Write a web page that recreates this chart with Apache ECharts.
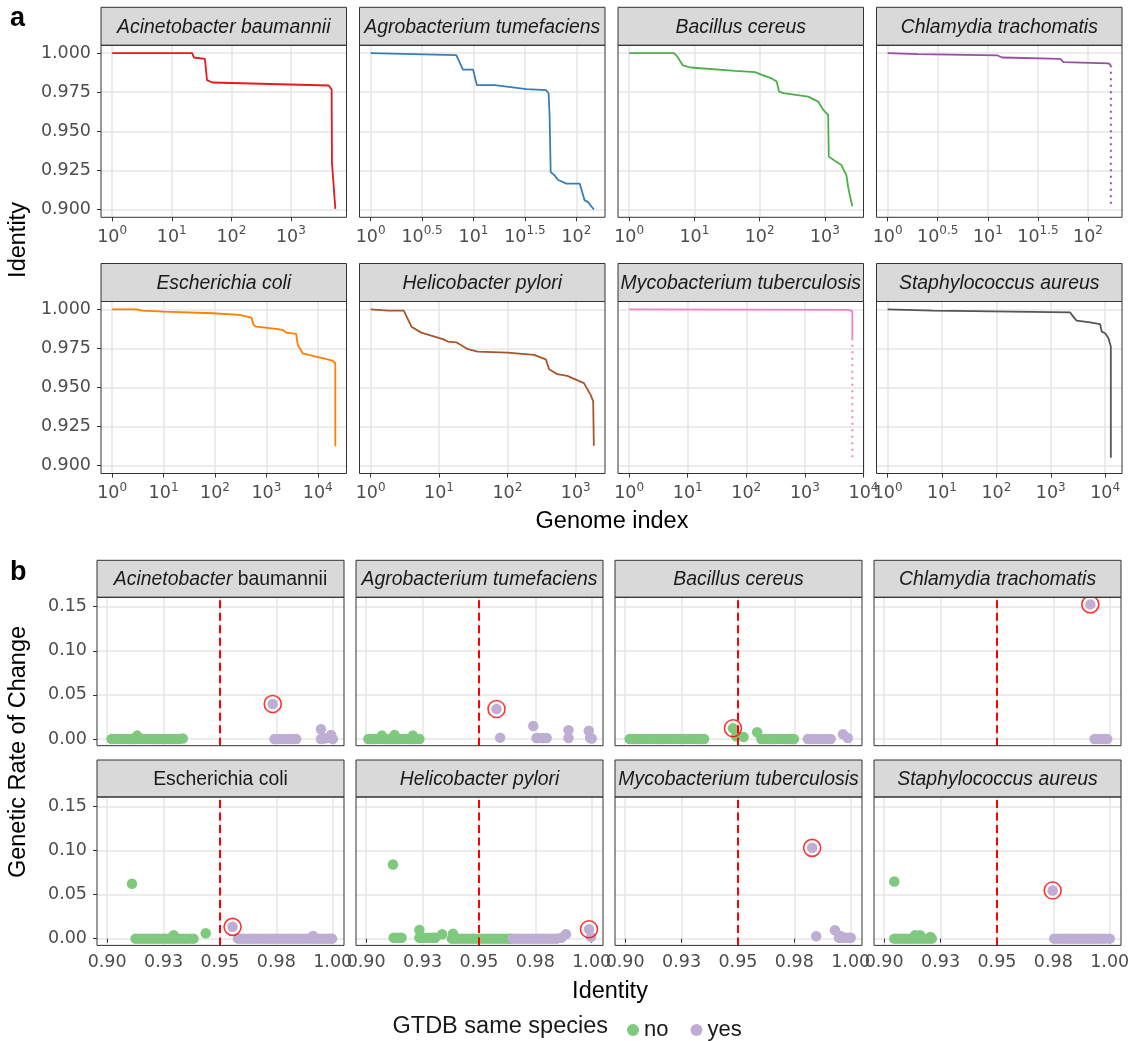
<!DOCTYPE html>
<html><head><meta charset="utf-8">
<script src="https://cdn.jsdelivr.net/npm/echarts@6/dist/echarts.min.js"></script>
<style>html,body{margin:0;padding:0;background:#fff}#c{width:1128px;height:1041px}</style>
</head><body><div id="c"></div>
<script>
// ---------------- DATA ----------------
const speciesA = ['Acinetobacter baumannii','Agrobacterium tumefaciens','Bacillus cereus','Chlamydia trachomatis',
  'Escherichia coli','Helicobacter pylori','Mycobacterium tuberculosis','Staphylococcus aureus'];
const lineColors = ['#e41a1c','#377eb8','#4daf4a','#984ea3','#ff7f00','#a65628','#f781bf','#555555'];

// panel a: [genome index, identity]
const curveAcinetobacter = [[1,1.000],[22,1.000],[23.5,0.9972],[36,0.9963],[39,0.9827],[48,0.9812],[4300,0.9793],[4600,0.9785],[4820,0.9768],[4880,0.9300],[5560,0.9004]];
const curveAgrobacterium = [[1,1.000],[6.8,0.9987],[7.9,0.9895],[9.9,0.9895],[10.8,0.9795],[16.1,0.9795],[16.7,0.9784],[32.7,0.9770],[51,0.9763],[53.8,0.9742],[55,0.9590],[56.3,0.9240],[61.5,0.9218],[66,0.9190],[80,0.9165],[108,0.9165],[113,0.9120],[120,0.9060],[130,0.9047],[148,0.9000]];
const curveBacillus = [[1,1.000],[4.85,1.000],[5.45,0.9979],[6.65,0.9921],[8.7,0.9908],[42,0.9887],[85,0.9878],[108,0.9861],[153,0.9838],[182,0.9818],[198,0.9754],[230,0.9744],[555,0.9722],[787,0.9690],[940,0.9637],[1120,0.9605],[1146,0.9338],[1414,0.9312],[1785,0.9284],[2130,0.9220],[2310,0.9124],[2630,0.9021]];
const curveChlamydia = [[1,1.000],[2,0.9993],[12.5,0.9985],[13.9,0.9972],[53,0.9963],[57,0.9942],[161,0.9934],[169,0.9923]];
const curveEscherichia = [[1,1.000],[3,1.000],[3.8,0.9992],[9.9,0.9985],[92,0.9975],[303,0.9964],[510,0.9947],[565,0.9900],[637,0.9889],[1550,0.9875],[2090,0.9868],[2430,0.9851],[3790,0.9843],[4080,0.9772],[5100,0.9719],[7980,0.9702],[19400,0.9672],[21900,0.9655],[21950,0.9124]];
const curveHelicobacter = [[1,1.000],[1.8,0.9992],[3.05,0.9992],[3.95,0.9889],[5.5,0.9851],[8.6,0.9826],[11.4,0.9809],[13.5,0.9794],[17.9,0.9789],[26.4,0.9745],[36.8,0.9730],[100,0.9723],[246,0.9709],[365,0.9680],[408,0.9617],[538,0.9585],[753,0.9574],[1318,0.9528],[1650,0.9453],[1800,0.9411],[1840,0.9128]];
const curveMycobacterium = [[1,1.000],[5520,0.9996],[6460,0.9989],[6460,0.9815]];
const curveStaphylococcus = [[1,1.000],[6.8,0.9992],[2250,0.9981],[2590,0.9953],[2980,0.9928],[5270,0.9917],[8060,0.9906],[8650,0.9857],[10000,0.9847],[11500,0.9815],[12700,0.9762],[12710,0.9050]];
const gapChlamydia = [[169,0.9923],[169,0.9015]];
const gapMycobacterium = [[6460,0.9815],[6460,0.9039]];
const curves = [curveAcinetobacter,curveAgrobacterium,curveBacillus,curveChlamydia,curveEscherichia,curveHelicobacter,curveMycobacterium,curveStaphylococcus];
const gaps = [null,null,null,gapChlamydia,null,null,gapMycobacterium,null];
const genomeTickExponents = [[0,1,2,3],[0,0.5,1,1.5,2],[0,1,2,3],[0,0.5,1,1.5,2],[0,1,2,3,4],[0,1,2,3],[0,1,2,3,4],[0,1,2,3,4]];
const identityTicksA = [0.900,0.925,0.950,0.975,1.000];

// panel b: [identity, genetic rate of change]
const identityTicksB = [0.90,0.925,0.95,0.975,1.00];
const identityTickLabelsB = ['0.90','0.93','0.95','0.98','1.00'];
const rateTicks = [0,0.05,0.10,0.15];
const speciesThreshold = 0.95;
const noPoints = [
  [[0.902,0],[0.9035,0],[0.905,0],[0.9065,0],[0.908,0],[0.9095,0],[0.911,0],[0.9125,0],[0.9133,0.0038],[0.914,0],[0.9155,0],[0.917,0],[0.9185,0],[0.920,0],[0.9215,0],[0.923,0],[0.9245,0],[0.926,0],[0.9275,0],[0.929,0],[0.9305,0],[0.932,0],[0.9335,0.0005]],
  [[0.901,0],[0.9025,0],[0.904,0],[0.9055,0],[0.907,0.0038],[0.907,0],[0.9085,0],[0.910,0],[0.9115,0],[0.9126,0.0045],[0.913,0],[0.9145,0],[0.916,0],[0.9175,0],[0.919,0],[0.9207,0.0038],[0.9205,0],[0.922,0],[0.9236,0]],
  [[0.902,0],[0.9035,0],[0.905,0],[0.9065,0],[0.908,0],[0.9095,0],[0.911,0],[0.9125,0],[0.914,0],[0.9155,0],[0.917,0],[0.9185,0],[0.920,0],[0.9215,0],[0.923,0],[0.9245,0],[0.926,0],[0.9275,0],[0.929,0],[0.9305,0],[0.932,0],[0.9335,0],[0.935,0],
   [0.9478,0.0121],[0.9492,0.003],[0.9525,0.0022],[0.9585,0.0076],
   [0.9604,0],[0.962,0],[0.9635,0],[0.965,0],[0.9665,0],[0.968,0],[0.9695,0],[0.971,0],[0.9725,0],[0.974,0],[0.9748,0]],
  [],
  [[0.911,0.0622],[0.9126,0],[0.914,0],[0.9155,0],[0.917,0],[0.9185,0],[0.920,0],[0.9215,0],[0.923,0],[0.9245,0],[0.926,0],[0.9275,0],[0.9295,0.004],[0.929,0],[0.9305,0],[0.932,0],[0.9335,0],[0.935,0],[0.9365,0],[0.9383,0],[0.9437,0.0061]],
  [[0.9119,0.084],[0.9122,0.001],[0.9135,0.001],[0.915,0.001],[0.9157,0.001],[0.9236,0.0099],[0.9236,0.001],[0.925,0.001],[0.9265,0.001],[0.928,0.001],[0.9295,0.001],[0.9306,0.001],[0.9337,0.005],[0.9385,0.0057],
   [0.938,0],[0.9395,0],[0.941,0],[0.9425,0],[0.944,0],[0.9455,0],[0.947,0],[0.9485,0],[0.950,0],[0.9515,0],[0.953,0],[0.9545,0],[0.956,0],[0.9575,0],[0.959,0],[0.9605,0],[0.962,0],[0.9635,0],[0.964,0]],
  [],
  [[0.9045,0.0649],[0.9045,0],[0.906,0],[0.9075,0],[0.909,0],[0.9105,0],[0.912,0],[0.9137,0.004],[0.9135,0],[0.915,0],[0.9159,0.004],[0.9165,0],[0.918,0],[0.9195,0],[0.9205,0.002],[0.9211,0]]
];
const yesPoints = [
  [[0.9734,0.0397],[0.9742,0],[0.9757,0],[0.9772,0],[0.9787,0],[0.9802,0],[0.9817,0],[0.9832,0],[0.9838,0],[0.9948,0.011],[0.9948,0],[0.9962,0.0005],[0.9975,0.001],[0.9993,0.0045],[1.0,0]],
  [[0.9578,0.034],[0.9594,0.0015],[0.9741,0.0147],[0.9755,0.001],[0.977,0.001],[0.9785,0.001],[0.980,0.001],[0.9897,0.010],[0.9897,0.001],[0.9987,0.0094],[0.9993,0.001],[1.0,0.0005]],
  [[0.981,0],[0.9825,0],[0.984,0],[0.9855,0],[0.987,0],[0.9885,0],[0.990,0],[0.9911,0],[0.9966,0.0053],[0.9987,0.001]],
  [[0.9914,0.1526],[0.9933,0],[0.9948,0],[0.9963,0],[0.9978,0],[0.9989,0]],
  [[0.9556,0.0134],[0.958,0],[0.9595,0],[0.961,0],[0.9625,0],[0.964,0],[0.9655,0],[0.967,0],[0.9685,0],[0.970,0],[0.9715,0],[0.973,0],[0.9745,0],[0.976,0],[0.9775,0],[0.979,0],[0.9805,0],[0.982,0],[0.9835,0],[0.985,0],[0.9865,0],[0.988,0],[0.9895,0],[0.991,0],[0.9913,0.003],[0.9925,0],[0.994,0],[0.9955,0],[0.997,0],[0.9985,0],[0.9997,0]],
  [[0.965,0],[0.9665,0],[0.968,0],[0.9695,0],[0.971,0],[0.9725,0],[0.974,0],[0.9755,0],[0.977,0],[0.9785,0],[0.980,0],[0.9815,0],[0.983,0],[0.9845,0],[0.9865,0.001],[0.9886,0.005],[0.9988,0.0107],[0.9997,0.002]],
  [[0.9829,0.103],[0.9847,0.0027],[0.993,0.0095],[0.9948,0.001],[0.9955,0.003],[0.996,0.001],[0.9975,0.001],[0.999,0.001],[1.0,0.001]],
  [[0.9747,0.0546],[0.9754,0],[0.977,0],[0.9785,0],[0.980,0],[0.9815,0],[0.983,0],[0.9845,0],[0.986,0],[0.9875,0],[0.989,0],[0.9905,0],[0.992,0],[0.9935,0],[0.995,0],[0.9965,0],[0.998,0],[1.0,0]]
];
const highlightPoints = [[0.9734,0.0397],[0.9578,0.034],[0.9478,0.0121],[0.9914,0.1526],[0.9556,0.0134],[0.9988,0.0107],[0.9829,0.103],[0.9747,0.0546]];

// ---------------- LAYOUT / STYLE ----------------
const A_LEFT = [101, 359.5, 618, 876.5], A_W = 245.5, A_TOP = [45.3, 301.5], A_H = 172, A_STRIP = 38;
const B_LEFT = [97, 356, 615, 874], B_W = 247, B_TOP = [597.3, 797], B_H = 148.4, B_STRIP = 37;
const TICK_FONT = 'DejaVu Sans', TICK_SIZE = 17.5, TICK_COLOR = '#4d4d4d';
const MAIN_FONT = 'Liberation Sans';
const GRID_LINE = '#e6e6e6';
const GRID_W = 1.5;

const grids = [], xAxes = [], yAxes = [], series = [], graphics = [];

function expandLog(data) {
  const xs = data.map(d => d[0]);
  const lo = Math.log10(Math.min(...xs)), hi = Math.log10(Math.max(...xs));
  const pad = (hi - lo) * 0.05;
  return [Math.pow(10, lo - pad), Math.pow(10, hi + pad)];
}
function supLabel(v) {
  const e = Math.log10(v);
  const r = Math.round(e * 2) / 2;
  if (Math.abs(e - r) > 1e-6) return '';
  return '{b|10}{s|' + (Number.isInteger(r) ? r.toFixed(0) : r.toFixed(1)) + '}';
}
function addFrame(x, y, w, h) {
  graphics.push({type:'rect', silent:true, z:50, shape:{x:x, y:y, width:w, height:h}, style:{fill:'none', stroke:'#333333', lineWidth:1}});
}
function addStrip(x, y, w, h, text, rich) {
  graphics.push({type:'rect', silent:true, z:50, shape:{x:x, y:y, width:w, height:h}, style:{fill:'#d9d9d9', stroke:'#333333', lineWidth:1}});
  const st = {text:text, x:x + w/2, y:y + h/2 + 1, textAlign:'center', textVerticalAlign:'middle', fill:'#1a1a1a',
    font:'italic 19.4px "' + MAIN_FONT + '"'};
  if (rich) st.rich = rich;
  graphics.push({type:'text', silent:true, z:51, style:st});
}

// ---- panel a ----
for (let k = 0; k < 8; k++) {
  const col = k % 4, row = Math.floor(k / 4);
  const gx = A_LEFT[col], gy = A_TOP[row];
  grids.push({left:gx, top:gy, width:A_W, height:A_H, show:true, backgroundColor:'#ffffff', borderWidth:0, containLabel:false, outerBoundsMode:'none'});
  const all = gaps[k] ? curves[k].concat(gaps[k]) : curves[k];
  const ext = expandLog(all);
  const exps = genomeTickExponents[k];
  const ticks = exps.map(e => Math.pow(10, e));
  const half = exps.some(e => !Number.isInteger(e));
  xAxes.push({gridIndex:k, type:'log', logBase: half ? Math.sqrt(10) : 10, min:ext[0], max:ext[1],
    axisLine:{show:false},
    axisTick:{show:true, length:4, lineStyle:{color:'#333333', width:1}, customValues:ticks},
    splitLine:{show:true, lineStyle:{color:GRID_LINE, width:GRID_W}},
    minorSplitLine:{show:false},
    axisLabel:{show:true, margin:8, customValues:ticks, formatter:supLabel, color:TICK_COLOR,
      rich:{b:{fontFamily:TICK_FONT, fontSize:TICK_SIZE, color:TICK_COLOR, verticalAlign:'bottom', lineHeight:21},
            s:{fontFamily:TICK_FONT, fontSize:12, color:TICK_COLOR, verticalAlign:'top', lineHeight:12}}}
  });
  yAxes.push({gridIndex:k, type:'value', min:0.895, max:1.005,
    axisLine:{show:false},
    axisTick:{show:col === 0, length:4, lineStyle:{color:'#333333', width:1}, customValues:identityTicksA},
    splitLine:{show:true, lineStyle:{color:GRID_LINE, width:GRID_W}},
    axisLabel:{show:col === 0, margin:10, customValues:identityTicksA, formatter:v => v.toFixed(3),
      fontFamily:TICK_FONT, fontSize:TICK_SIZE, color:TICK_COLOR}
  });
  series.push({type:'line', xAxisIndex:k, yAxisIndex:k, data:curves[k], showSymbol:false, silent:true, animation:false,
    lineStyle:{color:lineColors[k], width:1.8}, z:3});
  if (gaps[k]) {
    series.push({type:'line', xAxisIndex:k, yAxisIndex:k, data:gaps[k], showSymbol:false, silent:true, animation:false,
      lineStyle:{color:lineColors[k], width:2, type:[2,4.5]}, z:3});
  }
  addStrip(gx, gy - A_STRIP, A_W, A_STRIP, speciesA[k]);
  addFrame(gx, gy, A_W, A_H);
}

// ---- panel b ----
for (let j = 0; j < 8; j++) {
  const k = 8 + j;
  const col = j % 4, row = Math.floor(j / 4);
  const gx = B_LEFT[col], gy = B_TOP[row];
  grids.push({left:gx, top:gy, width:B_W, height:B_H, show:true, backgroundColor:'#ffffff', borderWidth:0, containLabel:false, outerBoundsMode:'none'});
  xAxes.push({gridIndex:k, type:'value', min:0.8955, max:1.005,
    axisLine:{show:false},
    axisTick:{show:row === 1, length:4, lineStyle:{color:'#333333', width:1}, customValues:identityTicksB},
    splitLine:{show:true, lineStyle:{color:GRID_LINE, width:GRID_W}},
    axisLabel:{show:row === 1, margin:8, customValues:identityTicksB,
      formatter:v => { let bi = 0; identityTicksB.forEach((t, i) => { if (Math.abs(t - v) < Math.abs(identityTicksB[bi] - v)) bi = i; }); return identityTickLabelsB[bi]; },
      fontFamily:TICK_FONT, fontSize:TICK_SIZE, color:TICK_COLOR}
  });
  yAxes.push({gridIndex:k, type:'value', min:-0.00765, max:0.16065,
    axisLine:{show:false},
    axisTick:{show:col === 0, length:4, lineStyle:{color:'#333333', width:1}, customValues:rateTicks},
    splitLine:{show:true, lineStyle:{color:GRID_LINE, width:GRID_W}},
    axisLabel:{show:col === 0, margin:10, customValues:rateTicks, formatter:v => v.toFixed(2),
      fontFamily:TICK_FONT, fontSize:TICK_SIZE, color:TICK_COLOR}
  });
  series.push({name:'no', type:'scatter', xAxisIndex:k, yAxisIndex:k, data:noPoints[j], symbol:'circle', symbolSize:10.5,
    itemStyle:{color:'#7fc97f', opacity:1}, silent:true, animation:false, z:2});
  series.push({name:'yes', type:'scatter', xAxisIndex:k, yAxisIndex:k, data:yesPoints[j], symbol:'circle', symbolSize:10.5,
    itemStyle:{color:'#beaed4', opacity:1}, silent:true, animation:false, z:2});
  series.push({type:'scatter', xAxisIndex:k, yAxisIndex:k, data:[highlightPoints[j]], symbol:'circle', symbolSize:17,
    itemStyle:{color:'rgba(0,0,0,0)', borderColor:'#ff0000', borderWidth:1.6}, silent:true, animation:false, z:4,
    markLine:{silent:true, symbol:['none','none'], label:{show:false}, animation:false,
      lineStyle:{color:'#ff0000', type:[8,4.5], width:2}, data:[{xAxis:speciesThreshold}]}});
  let rich;
  let text = speciesA[j];
  if (j === 0) {
    text = '{i|Acinetobacter} {n|baumannii}';
    rich = {i:{font:'italic 19.4px "' + MAIN_FONT + '"', fill:'#1a1a1a'}, n:{font:'19.4px "' + MAIN_FONT + '"', fill:'#1a1a1a'}};
  }
  if (j === 4) {
    text = '{n|Escherichia coli}';
    rich = {n:{font:'19.4px "' + MAIN_FONT + '"', fill:'#1a1a1a'}};
  }
  addStrip(gx, gy - B_STRIP, B_W, B_STRIP, text, rich);
  addFrame(gx, gy, B_W, B_H);
}

// ---- titles ----
function txt(t, x, y, size, opts) {
  opts = opts || {};
  graphics.push({type:'text', silent:true, z:60, x:x, y:y, rotation:opts.rot || 0,
    style:{text:t, x:0, y:0, textAlign:opts.align || 'center', textVerticalAlign:'middle', fill:opts.color || '#000000',
      font:(opts.weight || 'normal') + ' ' + size + 'px "' + MAIN_FONT + '"'}});
}
txt('a', 10, 19, 27, {align:'left', weight:'bold'});
txt('b', 10, 573, 27, {align:'left', weight:'bold'});
txt('Identity', 19, 240, 23.5, {rot:Math.PI/2});
txt('Genome index', 612, 522, 23.5);
txt('Genetic Rate of Change', 19, 752, 23.5, {rot:Math.PI/2});
txt('Identity', 610, 992, 23.5);
txt('GTDB same species', 608, 1027, 23.5, {align:'right', color:'#1a1a1a'});

const chart = echarts.init(document.getElementById('c'), null, {renderer:'canvas'});
chart.setOption({
  animation:false,
  backgroundColor:'#ffffff',
  grid:grids, xAxis:xAxes, yAxis:yAxes, series:series,
  legend:{data:['no','yes'], left:622, top:1014, icon:'circle', itemWidth:12, itemHeight:12, itemGap:22,
    selectedMode:false, textStyle:{fontFamily:MAIN_FONT, fontSize:22, color:'#1a1a1a'}},
  graphic:{elements:graphics}
});
</script></body></html>
